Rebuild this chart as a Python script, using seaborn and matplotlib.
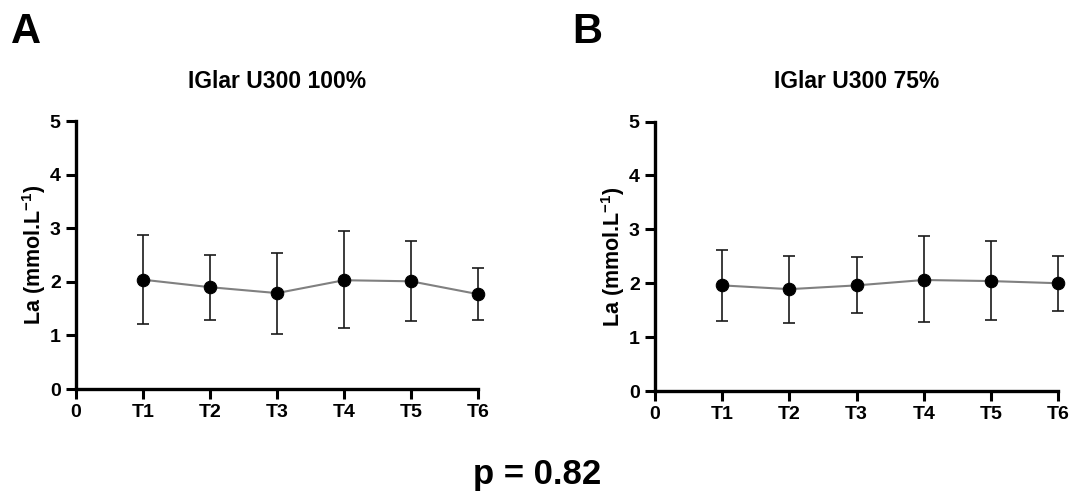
import matplotlib
matplotlib.use('Agg')
import matplotlib.pyplot as plt
import pandas as pd
import seaborn as sns

sns.set_style('ticks')
plt.rcParams['font.family'] = ['Liberation Sans', 'DejaVu Sans']
plt.rcParams['font.weight'] = 'bold'
plt.rcParams['mathtext.fontset'] = 'custom'
plt.rcParams['mathtext.rm'] = 'Liberation Sans:bold'
plt.rcParams['mathtext.bf'] = 'Liberation Sans:bold'
plt.rcParams['mathtext.default'] = 'bf'
for key in ['text.color', 'axes.labelcolor', 'xtick.color', 'ytick.color']:
    plt.rcParams[key] = 'black'

# Mean and upper/lower ends of the error bars
timepoints = ['T1', 'T2', 'T3', 'T4', 'T5', 'T6']
time_idx = [1, 2, 3, 4, 5, 6]

a_mean = [2.04, 1.90, 1.79, 2.03, 2.01, 1.77]
a_upper = [2.87, 2.51, 2.54, 2.94, 2.77, 2.26]
a_lower = [1.21, 1.29, 1.03, 1.13, 1.26, 1.28]

b_mean = [1.96, 1.89, 1.96, 2.06, 2.04, 2.00]
b_upper = [2.61, 2.51, 2.48, 2.88, 2.78, 2.51]
b_lower = [1.30, 1.26, 1.44, 1.28, 1.32, 1.49]

titles = ['IGlar U300 100%', 'IGlar U300 75%']
panel_letters = ['A', 'B']
p_text = 'p = 0.82'

fig = plt.figure(figsize=(10.75, 4.99), dpi=100)
ax_a = fig.add_axes([0.0707, 0.2204, 0.374, 0.537])
ax_b = fig.add_axes([0.6093, 0.2164, 0.375, 0.540])

panels = [(ax_a, a_mean, a_upper, a_lower), (ax_b, b_mean, b_upper, b_lower)]
for i, (ax, mean, upper, lower) in enumerate(panels):
    df = pd.DataFrame({'t': time_idx, 'la': mean,
                       'lo': [m - l for m, l in zip(mean, lower)],
                       'hi': [u - m for m, u in zip(mean, upper)]})
    eb = ax.errorbar(df.t, df.la, yerr=[df.lo, df.hi], fmt='none', ecolor='#1a1a1a',
                     elinewidth=1.2, capsize=4.3, capthick=1.2, zorder=2)
    for artist in eb.lines[1] + eb.lines[2]:
        artist.set_clip_on(False)
    sns.lineplot(data=df, x='t', y='la', ax=ax, color='#808080', linewidth=1.5,
                 marker='o', markersize=9, markerfacecolor='black',
                 markeredgecolor='black', zorder=3, clip_on=False)

    ax.set_xlim(0, 6)
    ax.set_ylim(0, 5)
    ax.set_xticks([0] + time_idx)
    ax.set_xticklabels(['0'] + timepoints)
    ax.set_yticks(range(6))
    ax.tick_params(axis='both', direction='out', length=7, width=2.2,
                   labelsize=14, pad=4)
    for lab in ax.get_xticklabels() + ax.get_yticklabels():
        lab.set_fontweight('bold')
    ax.set_xlabel('')
    ax.set_ylabel('La (mmol.L$^{-1}$)', fontsize=15.5, fontweight='bold',
                  labelpad=1)
    ax.set_title(titles[i], fontsize=16.5, fontweight='bold', pad=24)
    sns.despine(ax=ax)
    for side in ['left', 'bottom']:
        ax.spines[side].set_linewidth(2.4)
        ax.spines[side].set_color('black')

fig.text(0.010, 0.935, panel_letters[0], fontsize=30, fontweight='bold', va='center')
fig.text(0.532, 0.935, panel_letters[1], fontsize=30, fontweight='bold', va='center')
fig.text(0.500, 0.050, p_text, fontsize=25, fontweight='bold', ha='center', va='center')

fig.savefig('out.png', dpi=100)
